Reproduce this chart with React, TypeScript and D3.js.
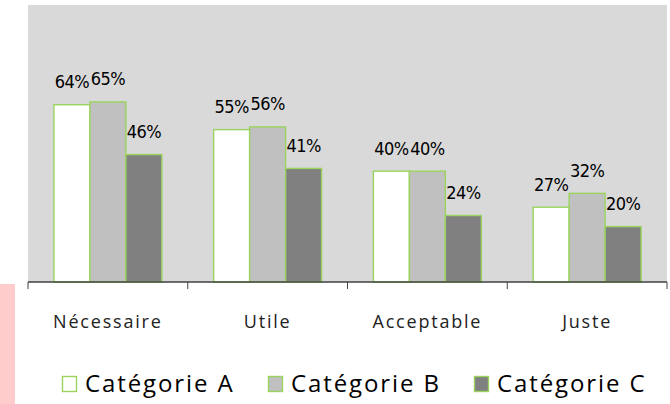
import React from "react";
import * as d3 from "d3";

const categories = ["Nécessaire", "Utile", "Acceptable", "Juste"];
const seriesNames = ["Catégorie A", "Catégorie B", "Catégorie C"];
const seriesA = [0.64, 0.55, 0.40, 0.27];
const seriesB = [0.65, 0.56, 0.40, 0.32];
const seriesC = [0.46, 0.41, 0.24, 0.20];
const seriesColors = ["#ffffff", "#c0c0c0", "#808080"];

const W = 670;
const H = 404;
const plot = { left: 28, right: 667, top: 5, bottom: 282 };

export default function App() {
  const series = [seriesA, seriesB, seriesC];
  const x = d3.scaleBand<string>().domain(categories).range([plot.left, plot.right]).paddingInner(0).paddingOuter(0);
  const xs = d3.scaleBand<number>().domain([0, 1, 2]).range([0, x.bandwidth()]).paddingInner(0).paddingOuter(0.72);
  const y = d3.scaleLinear().domain([0, 1]).range([plot.bottom, plot.top]);
  const fmt = d3.format(".0%");
  const tickXs = categories.map((c) => x(c)!).concat([plot.right]);
  const legendX = [62, 268, 474];

  return (
    <svg width={W} height={H} style={{ position: "absolute", left: 0, top: 0 }}>
      <rect x={0} y={0} width={W} height={H} fill="#ffffff" />
      <rect x={0} y={284} width={15} height={H - 284} fill="#ffcccc" />
      <rect x={plot.left} y={plot.top} width={plot.right - plot.left} height={plot.bottom - plot.top} fill="#d9d9d9" />
      {categories.map((c, ci) =>
        series.map((s, si) => (
          <rect
            key={c + si}
            x={x(c)! + xs(si)!}
            y={y(s[ci])}
            width={xs.bandwidth()}
            height={y(0) - y(s[ci])}
            fill={seriesColors[si]}
            stroke="#9ad45e"
            strokeWidth={1.4}
          />
        ))
      )}
      {categories.map((c, ci) =>
        series.map((s, si) => (
          <text
            key={"l" + c + si}
            x={x(c)! + xs(si)! + xs.bandwidth() / 2}
            y={y(s[ci]) - 16.5}
            textAnchor="middle"
            fontFamily="DejaVu Sans Condensed, DejaVu Sans"
            fontSize={18}
            letterSpacing={-0.6}
            fill="#000"
          >
            {fmt(s[ci])}
          </text>
        ))
      )}
      <line x1={plot.left} x2={plot.right} y1={plot.bottom} y2={plot.bottom} stroke="#404040" strokeWidth={1.5} />
      {tickXs.map((t, i) => (
        <line key={"t" + i} x1={t} x2={t} y1={plot.bottom} y2={plot.bottom + 7} stroke="#404040" strokeWidth={1} />
      ))}
      {categories.map((c) => (
        <text
          key={"c" + c}
          x={x(c)! + x.bandwidth() / 2}
          y={328}
          textAnchor="middle"
          fontFamily="Open Sans"
          fontSize={18}
          letterSpacing={1.8}
          fill="#222"
        >
          {c}
        </text>
      ))}
      {seriesNames.map((n, i) => (
        <g key={"lg" + n}>
          <rect x={legendX[i] + 0.5} y={376.5} width={14} height={15} fill={seriesColors[i]} stroke="#9ad45e" strokeWidth={1.4} />
          <text x={legendX[i] + 23} y={392} fontFamily="Open Sans" fontSize={24} letterSpacing={1.9} fill="#000">
            {n}
          </text>
        </g>
      ))}
    </svg>
  );
}
